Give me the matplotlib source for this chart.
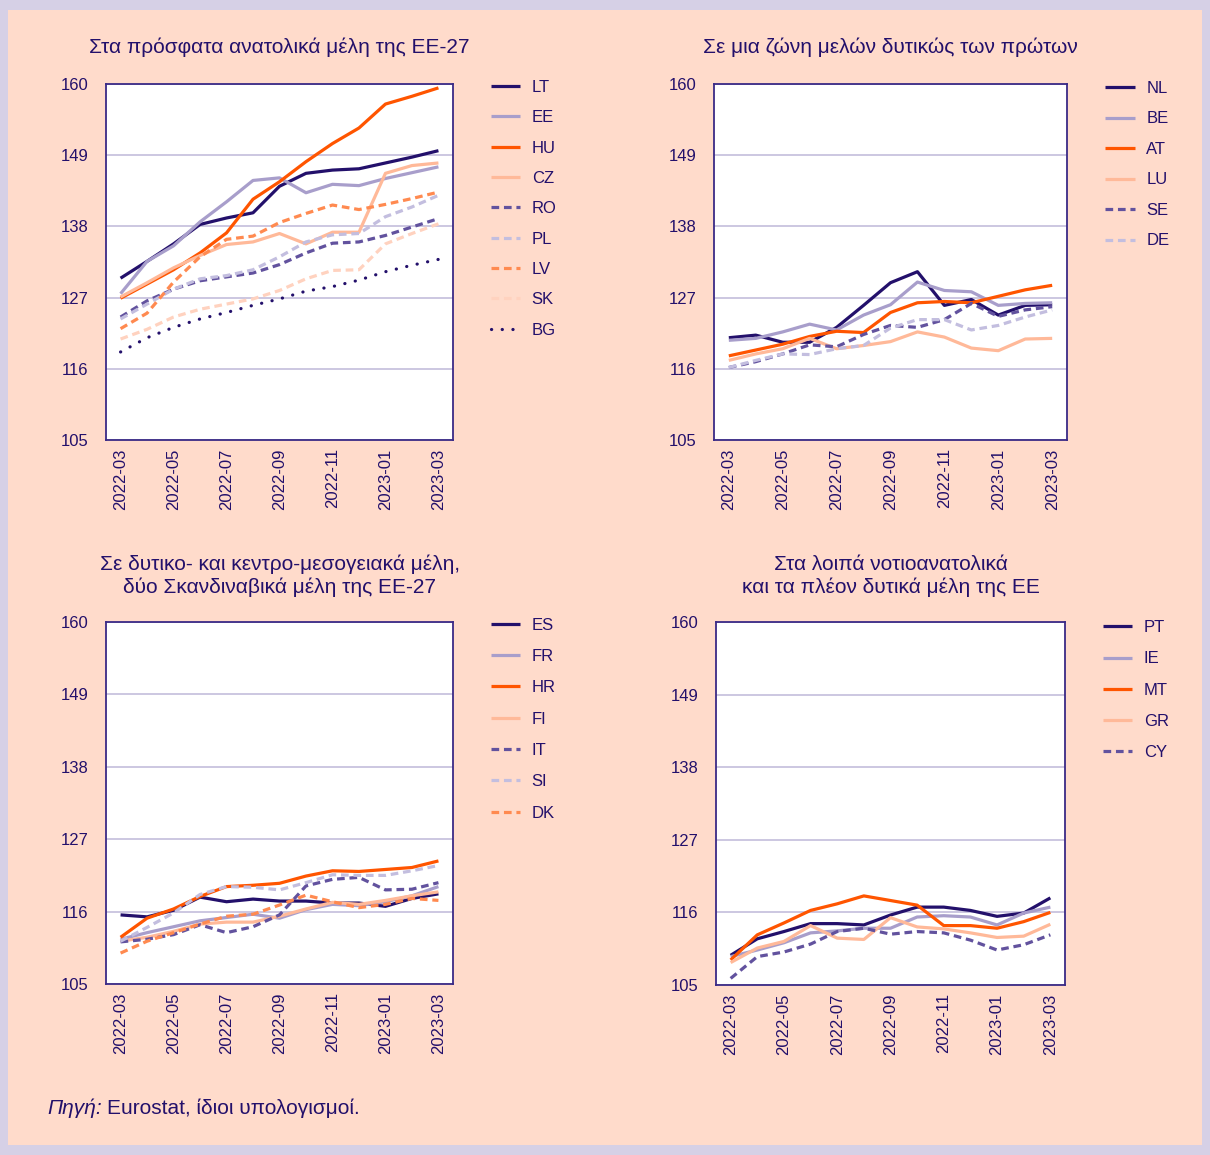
import numpy as np
import matplotlib
matplotlib.use("Agg")
import matplotlib.pyplot as plt
from matplotlib.patches import Rectangle

plt.rcParams['font.family'] = ['Liberation Sans', 'DejaVu Sans']

months = ['2022-03', '2022-04', '2022-05', '2022-06', '2022-07', '2022-08', '2022-09',
          '2022-10', '2022-11', '2022-12', '2023-01', '2023-02', '2023-03']
yticks = [105, 116, 127, 138, 149, 160]

# panel 1 - recent eastern members
LT = [130.0, 132.6, 135.3, 138.3, 139.3, 140.1, 144.2, 146.2, 146.7, 146.9, 147.8, 148.7, 149.7]
EE = [127.6, 132.6, 135.0, 138.7, 141.8, 145.1, 145.5, 143.2, 144.5, 144.3, 145.4, 146.3, 147.2]
HU = [126.9, 129.1, 131.3, 133.9, 137.0, 142.2, 144.9, 148.0, 150.8, 153.2, 156.9, 158.1, 159.4]
CZ = [127.1, 129.3, 131.6, 133.5, 135.2, 135.6, 136.9, 135.3, 137.1, 137.1, 146.2, 147.4, 147.8]
RO = [124.0, 126.5, 128.3, 129.6, 130.2, 130.8, 132.1, 133.9, 135.4, 135.6, 136.6, 137.9, 139.2]
PL = [123.7, 126.0, 128.3, 129.9, 130.4, 131.3, 133.3, 135.6, 136.7, 136.9, 139.5, 141.0, 142.8]
LV = [122.2, 124.6, 129.4, 133.3, 136.0, 136.5, 138.6, 140.0, 141.3, 140.6, 141.4, 142.3, 143.3]
SK = [120.6, 122.1, 124.0, 125.2, 126.0, 126.8, 128.1, 129.9, 131.2, 131.3, 135.3, 136.9, 138.4]
BG = [118.6, 120.8, 122.4, 123.7, 124.7, 125.8, 126.8, 128.0, 128.7, 129.7, 131.0, 132.0, 132.9]

# panel 2 - western zone
NL = [120.8, 121.2, 120.1, 120.1, 122.4, 125.8, 129.3, 131.0, 125.8, 126.7, 124.3, 125.8, 125.9]
BE = [120.4, 120.7, 121.7, 122.9, 122.0, 124.3, 125.9, 129.4, 128.1, 127.9, 125.8, 126.1, 126.2]
AT = [118.0, 118.9, 119.8, 121.0, 121.8, 121.6, 124.7, 126.2, 126.4, 126.2, 127.2, 128.2, 128.9]
LU = [117.3, 118.3, 119.1, 120.7, 119.1, 119.6, 120.2, 121.7, 120.9, 119.2, 118.8, 120.6, 120.7]
SE = [116.2, 117.1, 118.3, 119.7, 119.4, 121.3, 122.7, 122.4, 123.6, 126.1, 124.1, 125.1, 125.6]
DE = [116.2, 117.3, 118.3, 118.2, 119.1, 119.6, 122.3, 123.6, 123.6, 122.0, 122.7, 124.0, 125.1]

# panel 3 - western / central mediterranean + nordic
ES = [115.5, 115.2, 116.2, 118.2, 117.5, 117.9, 117.6, 117.6, 117.3, 117.3, 116.8, 118.0, 118.7]
FR = [111.8, 112.8, 113.7, 114.6, 115.1, 115.6, 115.0, 116.3, 117.1, 116.9, 117.5, 118.4, 119.8]
HR = [112.1, 115.0, 116.4, 118.3, 119.8, 120.0, 120.3, 121.4, 122.2, 122.1, 122.4, 122.7, 123.7]
FI = [111.5, 112.1, 113.0, 114.1, 114.4, 114.4, 115.3, 116.4, 117.4, 117.1, 117.7, 118.4, 119.0]
IT = [111.4, 111.8, 112.5, 114.0, 112.8, 113.7, 115.5, 119.9, 120.9, 121.2, 119.3, 119.4, 120.4]
SI = [111.5, 113.6, 115.8, 118.6, 119.8, 119.7, 119.3, 120.4, 121.6, 121.5, 121.5, 122.2, 123.0]
DK = [109.7, 111.5, 112.8, 114.1, 115.3, 115.6, 117.0, 118.5, 117.5, 116.6, 117.1, 118.0, 117.7]

# panel 4 - remaining south-east and western
PT = [109.5, 112.0, 113.1, 114.3, 114.3, 114.1, 115.6, 116.8, 116.8, 116.3, 115.4, 115.9, 118.2]
IE = [109.3, 110.3, 111.4, 112.9, 113.2, 113.6, 113.6, 115.3, 115.5, 115.3, 114.1, 115.9, 116.8]
MT = [108.8, 112.6, 114.4, 116.3, 117.3, 118.5, 117.8, 117.1, 114.0, 114.0, 113.6, 114.6, 116.0]
GR = [108.4, 110.6, 111.6, 114.0, 112.1, 111.9, 115.2, 113.8, 113.5, 112.9, 112.2, 112.4, 114.2]
CY = [106.0, 109.3, 110.0, 111.2, 113.1, 113.6, 112.7, 113.1, 112.9, 111.8, 110.3, 111.1, 112.6]

panels = [
    ("Στα πρόσφατα ανατολικά μέλη της ΕΕ-27",
     ['LT', 'EE', 'HU', 'CZ', 'RO', 'PL', 'LV', 'SK', 'BG'], [LT, EE, HU, CZ, RO, PL, LV, SK, BG]),
    ("Σε μια ζώνη μελών δυτικώς των πρώτων",
     ['NL', 'BE', 'AT', 'LU', 'SE', 'DE'], [NL, BE, AT, LU, SE, DE]),
    ("Σε δυτικο- και κεντρο-μεσογειακά μέλη,\nδύο Σκανδιναβικά μέλη της ΕΕ-27",
     ['ES', 'FR', 'HR', 'FI', 'IT', 'SI', 'DK'], [ES, FR, HR, FI, IT, SI, DK]),
    ("Στα λοιπά νοτιοανατολικά\nκαι τα πλέον δυτικά μέλη της ΕΕ",
     ['PT', 'IE', 'MT', 'GR', 'CY'], [PT, IE, MT, GR, CY]),
]

navy = '#23106b'
styles = [
    dict(color=navy, ls='-'),
    dict(color='#a89ecb', ls='-'),
    dict(color='#ff5500', ls='-'),
    dict(color='#ffb999', ls='-'),
    dict(color='#62529e', ls=(0, (2.4, 1.5))),
    dict(color='#c3bedf', ls=(0, (2.4, 1.5))),
    dict(color='#ff8a50', ls=(0, (2.4, 1.5))),
    dict(color='#ffd2bf', ls=(0, (2.4, 1.5))),
    dict(color=navy, ls=(0, (0.05, 3.3))),
]

W, H = 1210, 1155
fig = plt.figure(figsize=(W / 100, H / 100), dpi=100)
fig.patch.set_facecolor('#d6d0e6')
fig.patches.append(Rectangle((8 / W, 1 - 1145 / H), 1194 / W, 1135 / H,
                             transform=fig.transFigure, facecolor='#ffdbcb',
                             edgecolor='none', zorder=-5))

# axes boxes in pixels: left, top, right, bottom
boxes = [(106, 84, 453, 440), (714, 84, 1067, 440), (106, 622, 453, 984), (716, 622, 1065, 985)]
title_y = [47, 47, 576, 576]
leg_space = [0.92, 0.93, 0.98, 0.97]
leg_top = [1.035, 1.032, 1.035, 1.028]

for (title, names, series), (l, t, r, b), ty, lsp, ltop in zip(panels, boxes, title_y,
                                                             leg_space, leg_top):
    ax = fig.add_axes([l / W, 1 - b / H, (r - l) / W, (b - t) / H])
    ax.set_facecolor('white')
    x = np.arange(len(months))
    for i, (name, vals) in enumerate(zip(names, series)):
        st = styles[i]
        ax.plot(x, vals, color=st['color'], linestyle=st['ls'], lw=2.3,
                dash_capstyle='butt' if i < 8 else 'round', label=name,
                solid_capstyle='butt')
    ax.set_xlim(-0.55, len(months) - 0.45)
    ax.set_ylim(105, 160)
    ax.set_yticks(yticks)
    ax.set_xticks(x[::2])
    ax.set_xticklabels(months[::2], rotation=90)
    ax.tick_params(length=0, colors=navy, labelsize=12)
    ax.tick_params(axis='y', pad=12.5)
    ax.tick_params(axis='x', pad=6)
    ax.grid(axis='y', color='#c3bddc', lw=1.2)
    ax.set_axisbelow(True)
    for s in ax.spines.values():
        s.set_color('#3a2a86')
        s.set_linewidth(1.3)
    fig.text((l + r) / 2 / W, 1 - ty / H, title, ha='center', va='center',
             fontsize=15, color=navy, linespacing=1.2)
    leg = ax.legend(loc='upper left', bbox_to_anchor=(1.085, ltop), frameon=False,
                    borderpad=0, handlelength=1.75, handletextpad=0.7,
                    labelspacing=lsp, fontsize=12)
    for txt in leg.get_texts():
        txt.set_color(navy)

t1 = fig.text(47 / W, 1 - 1108 / H, "Πηγή:", style='italic', fontsize=15,
              color=navy, va='center')
fig.canvas.draw()
bb = t1.get_window_extent()
fig.text((bb.x1 + 5) / W, 1 - 1108 / H, "Eurostat, ίδιοι υπολογισμοί.", fontsize=15,
         color=navy, va='center')

fig.savefig('out.png', dpi=100, facecolor=fig.get_facecolor())
